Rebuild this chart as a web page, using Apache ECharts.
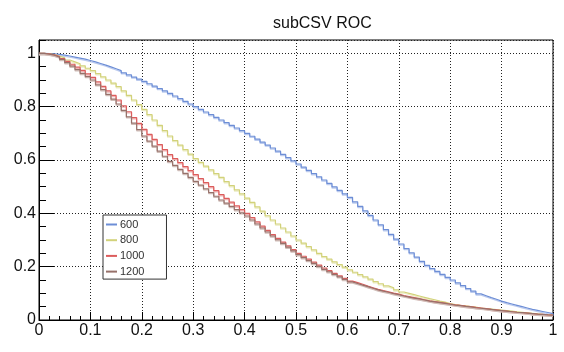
<!DOCTYPE html>
<html>
<head>
<meta charset="utf-8">
<script src="https://cdn.jsdelivr.net/npm/echarts@6/dist/echarts.min.js"></script>
<style>html,body{margin:0;padding:0;background:#fff;}#c{width:564px;height:352px;}</style>
</head>
<body>
<div id="c"></div>
<script>
// Efficiency values per bin, x = 0.00 .. 1.00 in steps of 0.01
const seriesNames = ['600', '800', '1000', '1200'];
const xTicks = [0, 0.1, 0.2, 0.3, 0.4, 0.5, 0.6, 0.7, 0.8, 0.9, 1];
const yTicks = [0, 0.2, 0.4, 0.6, 0.8, 1];

const roc600 = [
  1.0, 0.999, 0.998, 0.996, 0.993, 0.99,
  0.986, 0.982, 0.978, 0.973, 0.968,
  0.962, 0.956, 0.949, 0.942, 0.935,
  0.927, 0.919, 0.911, 0.903, 0.895,
  0.886, 0.877, 0.868, 0.859, 0.85,
  0.84, 0.83, 0.82, 0.81, 0.80,
  0.79, 0.78, 0.77, 0.76, 0.75,
  0.74, 0.73, 0.72, 0.71, 0.70,
  0.689, 0.678, 0.667, 0.656, 0.645,
  0.633, 0.621, 0.609, 0.597, 0.585,
  0.573, 0.561, 0.549, 0.537, 0.525,
  0.512, 0.499, 0.486, 0.473, 0.46,
  0.443, 0.426, 0.409, 0.392, 0.375,
  0.357, 0.339, 0.321, 0.303, 0.285,
  0.268, 0.252, 0.236, 0.22, 0.205,
  0.193, 0.182, 0.171, 0.16, 0.15,
  0.139, 0.129, 0.118, 0.108, 0.098,
  0.091, 0.084, 0.078, 0.071, 0.065,
  0.06, 0.055, 0.05, 0.045, 0.04,
  0.036, 0.032, 0.028, 0.024, 0.02
];
const roc800 = [
  1.0, 0.998, 0.995, 0.99, 0.983, 0.975,
  0.968, 0.961, 0.953, 0.944, 0.935,
  0.924, 0.912, 0.9, 0.888, 0.875,
  0.859, 0.842, 0.825, 0.808, 0.79,
  0.77, 0.75, 0.73, 0.71, 0.69,
  0.673, 0.656, 0.639, 0.622, 0.605,
  0.591, 0.577, 0.563, 0.549, 0.535,
  0.519, 0.504, 0.488, 0.473, 0.457,
  0.441, 0.424, 0.408, 0.391, 0.375,
  0.36, 0.345, 0.33, 0.315, 0.30,
  0.288, 0.275, 0.263, 0.25, 0.238,
  0.228, 0.218, 0.208, 0.198, 0.188,
  0.179, 0.17, 0.162, 0.153, 0.144,
  0.136, 0.128, 0.121, 0.113, 0.105,
  0.10, 0.095, 0.09, 0.085, 0.08,
  0.076, 0.071, 0.067, 0.062, 0.058,
  0.055, 0.053, 0.05, 0.048, 0.045,
  0.043, 0.041, 0.039, 0.037, 0.035,
  0.033, 0.031, 0.029, 0.027, 0.025,
  0.023, 0.021, 0.02, 0.018, 0.016
];
const roc1000 = [
  1.0, 0.998, 0.994, 0.988, 0.98, 0.97,
  0.959, 0.948, 0.936, 0.923, 0.91,
  0.893, 0.876, 0.859, 0.842, 0.825,
  0.803, 0.781, 0.759, 0.737, 0.715,
  0.696, 0.677, 0.658, 0.639, 0.62,
  0.605, 0.59, 0.575, 0.56, 0.545,
  0.53, 0.515, 0.5, 0.485, 0.47,
  0.456, 0.442, 0.428, 0.414, 0.40,
  0.384, 0.368, 0.352, 0.336, 0.32,
  0.306, 0.292, 0.278, 0.264, 0.25,
  0.239, 0.228, 0.217, 0.206, 0.195,
  0.185, 0.175, 0.166, 0.156, 0.146,
  0.14, 0.134, 0.127, 0.121, 0.115,
  0.11, 0.106, 0.101, 0.097, 0.092,
  0.088, 0.084, 0.08, 0.076, 0.072,
  0.069, 0.066, 0.063, 0.06, 0.057,
  0.055, 0.052, 0.05, 0.047, 0.045,
  0.043, 0.040, 0.038, 0.035, 0.033,
  0.031, 0.029, 0.028, 0.026, 0.024,
  0.022, 0.021, 0.019, 0.018, 0.016
];
const roc1200 = [
  1.0, 0.997, 0.993, 0.986, 0.977, 0.965,
  0.952, 0.939, 0.925, 0.913, 0.90,
  0.882, 0.864, 0.846, 0.828, 0.81,
  0.786, 0.762, 0.738, 0.714, 0.69,
  0.671, 0.652, 0.633, 0.614, 0.595,
  0.58, 0.565, 0.55, 0.535, 0.52,
  0.506, 0.492, 0.478, 0.464, 0.45,
  0.438, 0.426, 0.414, 0.402, 0.39,
  0.375, 0.36, 0.345, 0.33, 0.315,
  0.301, 0.287, 0.273, 0.259, 0.245,
  0.234, 0.223, 0.212, 0.201, 0.19,
  0.181, 0.171, 0.162, 0.152, 0.143,
  0.137, 0.131, 0.125, 0.119, 0.113,
  0.108, 0.104, 0.099, 0.095, 0.09,
  0.086, 0.082, 0.079, 0.075, 0.071,
  0.068, 0.065, 0.062, 0.059, 0.056,
  0.054, 0.051, 0.049, 0.046, 0.044,
  0.042, 0.040, 0.037, 0.035, 0.033,
  0.031, 0.029, 0.028, 0.026, 0.024,
  0.022, 0.021, 0.019, 0.018, 0.016
];

const colors = ['#6d8ed6', '#d2d27a', '#dc5c5c', '#97716a'];
const shadowColors = ['#bccbee', '#ececc4', '#f0b4b4', '#cfbdb8'];
const allData = [roc600, roc800, roc1000, roc1200];

function toPairs(arr) {
  const n = arr.length - 1;
  return arr.map((v, i) => [Math.round(i * 1000 / n) / 1000, v]);
}

const FONT = 'Liberation Sans';
const chart = echarts.init(document.getElementById('c'), null, {renderer: 'canvas'});

const series = seriesNames.map((name, k) => ({
  name: name,
  type: 'line',
  step: 'end',
  showSymbol: false,
  symbol: 'none',
  data: toPairs(allData[k]),
  color: colors[k],
  lineStyle: {
    width: 1.2,
    color: colors[k],
    shadowColor: shadowColors[k],
    shadowBlur: 0,
    shadowOffsetY: 1.2,
    shadowOffsetX: 0
  },
  xAxisIndex: 0,
  yAxisIndex: 0,
  z: 3
}));

const option = {
  animation: false,
  backgroundColor: '#fff',
  title: {
    text: 'subCSV ROC',
    left: 268,
    top: 11,
    textStyle: {fontFamily: FONT, fontSize: 16, fontWeight: 'normal', color: '#111'}
  },
  legend: {
    data: seriesNames,
    orient: 'vertical',
    left: 103,
    top: 215,
    padding: [4, 22, 2, 3],
    itemGap: 4.7,
    itemWidth: 11,
    itemHeight: 2,
    icon: 'rect',
    backgroundColor: '#fff',
    borderColor: '#333',
    borderWidth: 1,
    textStyle: {fontFamily: FONT, fontSize: 11, color: '#333', padding: [0, 0, 0, -2]}
  },
  grid: {
    left: 39, right: 11, top: 40, bottom: 32,
    show: true, borderColor: '#000', borderWidth: 1, backgroundColor: 'transparent'
  },
  xAxis: [
    {
      type: 'value', min: 0, max: 1, interval: 0.1,
      axisLine: {show: true, lineStyle: {color: '#000', width: 1}},
      axisTick: {show: true, inside: true, length: 8, lineStyle: {color: '#000'}},
      minorTick: {show: true, splitNumber: 5, length: 4, lineStyle: {color: '#000'}},
      splitLine: {show: true, lineStyle: {color: '#222', type: [1, 2], width: 1}},
      axisLabel: {
        fontFamily: FONT, fontSize: 16, color: '#111', margin: 3,
        formatter: v => xTicks.indexOf(Math.round(v * 10) / 10) >= 0 ? String(Math.round(v * 10) / 10) : ''
      }
    }
  ],
  yAxis: [
    {
      type: 'value', min: 0, max: 1.05, interval: 0.2,
      axisLine: {show: true, lineStyle: {color: '#000', width: 1}},
      axisTick: {show: true, inside: true, length: 15, lineStyle: {color: '#000'}},
      splitLine: {show: true, lineStyle: {color: '#222', type: [1, 2], width: 1}},
      axisLabel: {
        fontFamily: FONT, fontSize: 16, color: '#111', margin: 3,
        showMaxLabel: false,
        formatter: v => {
          const r = Math.round(v * 10) / 10;
          return (Math.abs(v - r) < 1e-6 && yTicks.indexOf(r) >= 0) ? String(r) : '';
        }
      }
    },
    {
      type: 'value', min: 0, max: 1.05, interval: 0.05, position: 'left',
      axisLine: {show: false},
      axisTick: {show: true, inside: true, length: 7, lineStyle: {color: '#000'}},
      splitLine: {show: false},
      axisLabel: {show: false}
    }
  ],
  series: series
};
chart.setOption(option);
</script>
</body>
</html>
